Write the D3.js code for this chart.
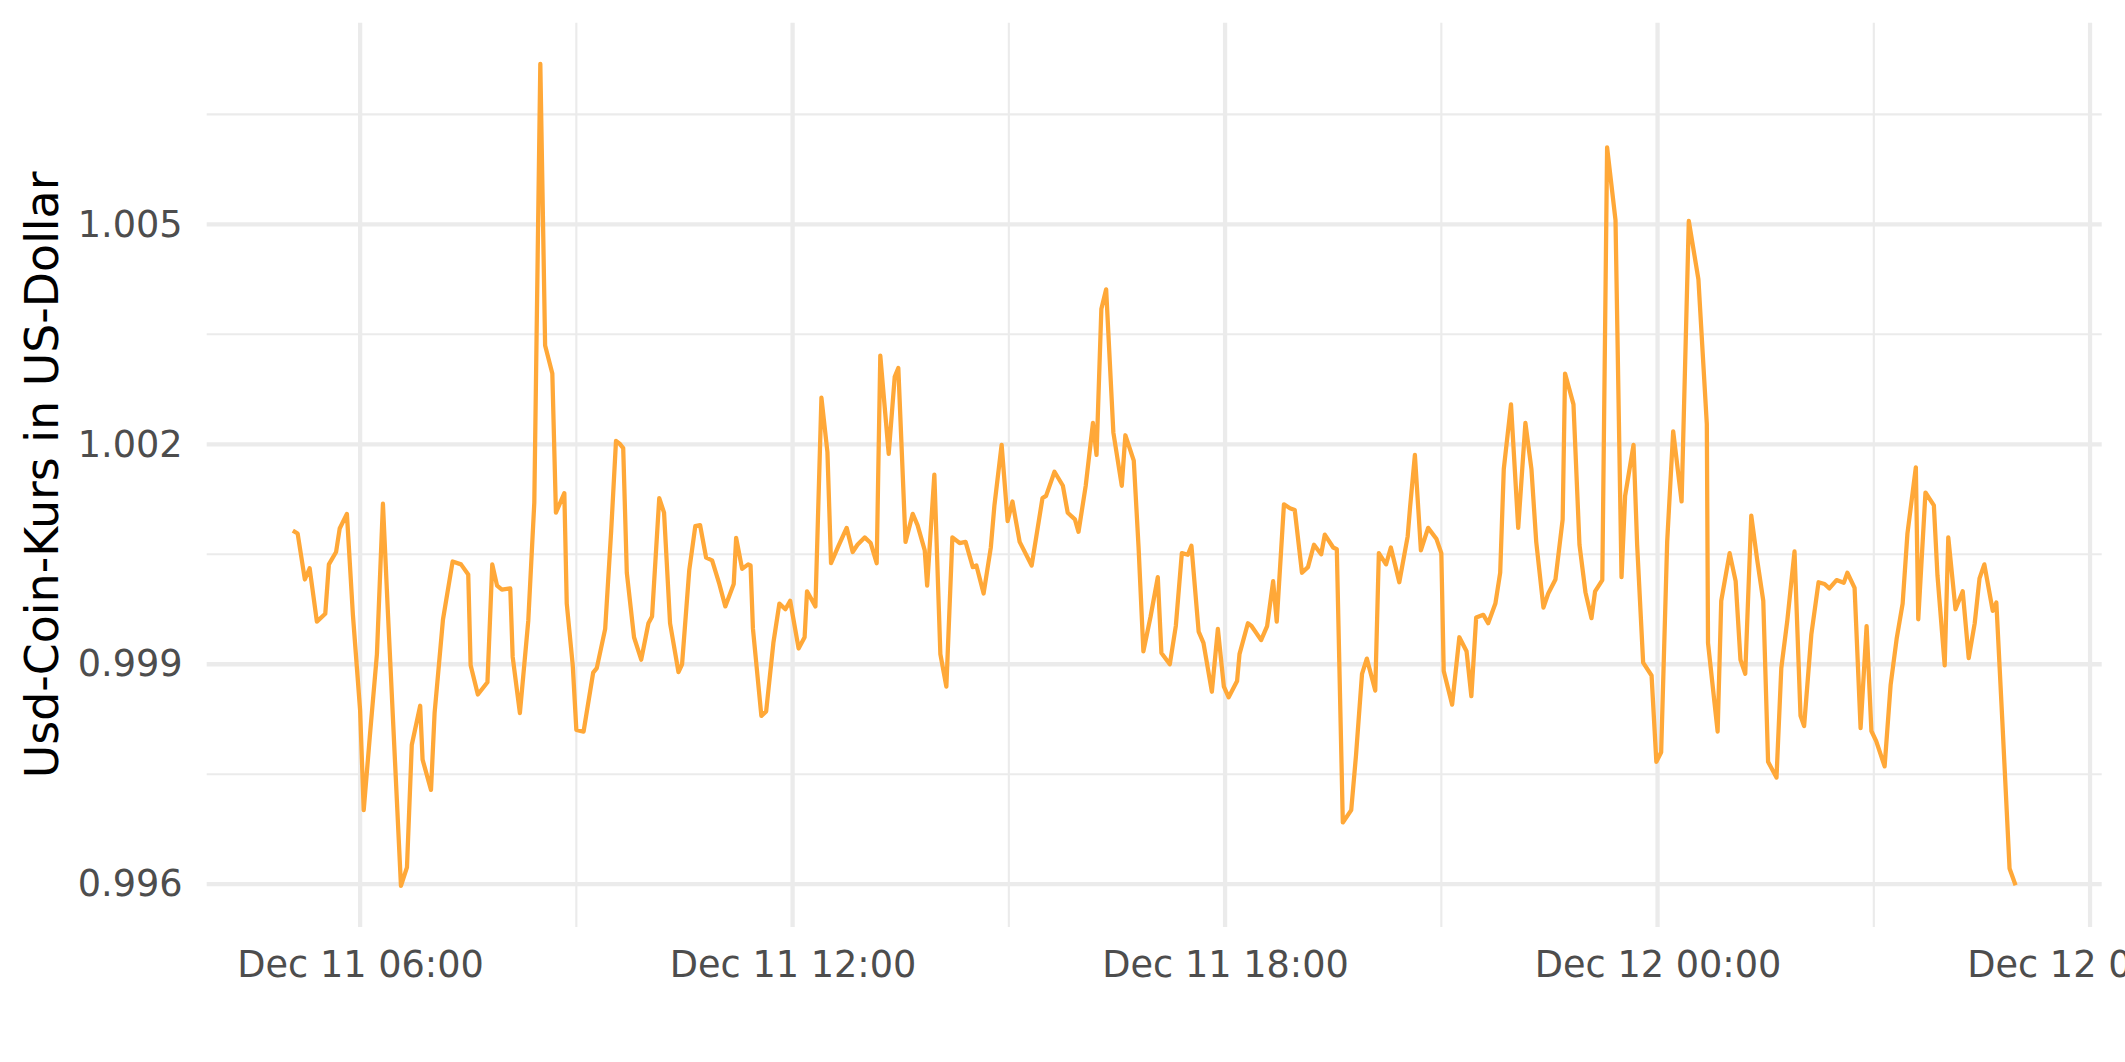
<!DOCTYPE html>
<html>
<head>
<meta charset="utf-8">
<script src="https://cdn.jsdelivr.net/npm/d3@7"></script>
<style>
  html, body { margin: 0; padding: 0; background: #ffffff; }
  svg { display: block; }
</style>
</head>
<body>
<svg id="chart" width="2125" height="1062"></svg>
<script>
// ---- Data ----
// Minutes after 2021-12-11 00:00 (UTC)
const minuteOffsets = [
  304,308,314,318,324,331,334,340,343,349,354,360,363,368,374,379,383,394,399,403,
  410,412,419,422,429,437,444,450,452,458,466,470,474,478,485,487,493,500,505,510,
  514,520,523,530,532,537,540,546,554,557,564,569,573,576,579,582,588,594,600,603,
  609,613,618,625,628,634,639,643,648,653,659,664,671,673,678,683,685,687,694,698,
  704,709,714,718,725,730,732,739,744,749,752,758,765,770,774,780,785,790,793,800,
  805,808,814,820,824,830,832,838,843,848,853,859,864,870,873,879,885,888,894,899,
  903,909,919,928,931,938,945,949,955,958,964,970,973,977,981,987,994,997,1004,1008,
  1012,1018,1024,1027,1034,1039,1044,1049,1052,1058,1062,1069,1074,1079,1083,1090,1092,1099,1102,1110,
  1115,1120,1123,1129,1134,1138,1144,1149,1154,1160,1163,1170,1173,1178,1185,1189,1194,1198,1205,1208,
  1214,1218,1225,1232,1234,1238,1243,1249,1256,1260,1262,1269,1275,1281,1285,1289,1295,1299,1305,1309,
  1312,1318,1324,1330,1335,1339,1345,1349,1355,1361,1363,1370,1375,1380,1385,1388,1394,1398,1405,1410,
  1413,1420,1423,1428,1435,1439,1443,1448,1453,1460,1466,1474,1481,1482,1490,1493,1500,1505,1509,1513,
  1518,1523,1528,1532,1539,1543,1548,1554,1559,1562,1568,1574,1579,1583,1589,1595,1598,1604,1609,1614,
  1618,1622,1629,1634,1639,1644,1648,1655,1657,1663,1670,1673,1679,1682,1688,1694,1699,1704,1708,1712,
  1719,1722,1727,1733,1738
];
// USD Coin price in US dollars
const priceUsd = [
  1.000822,1.000783,1.000156,1.000309,0.999582,0.999689,1.000362,1.000531,1.000852,1.001051,
  0.999674,0.998373,0.997010,0.998000,0.999138,1.001189,0.999750,0.995977,0.996230,0.997898,
  0.998434,0.997699,0.997286,0.998334,0.999613,1.000401,1.000362,1.000225,0.998985,0.998587,
  0.998755,1.000362,1.000072,1.000018,1.000034,0.999100,0.998334,0.999597,1.001204,1.007189,
  1.003347,1.002965,1.001067,1.001334,0.999827,0.998985,0.998105,0.998082,0.998885,0.998947,
  0.999482,1.000822,1.002046,1.002008,1.001947,1.000248,0.999368,0.999062,0.999559,0.999651,
  1.001266,1.001067,0.999559,0.998893,0.999000,1.000286,1.000883,1.000898,1.000454,1.000416,
  1.000095,0.999789,1.000095,1.000722,1.000301,1.000362,1.000347,0.999482,0.998296,0.998357,
  0.999291,0.999827,0.999750,0.999865,0.999215,0.999368,0.999995,0.999789,1.002636,1.001893,
  1.000378,1.000607,1.000860,1.000531,1.000630,1.000730,1.000653,1.000378,1.003209,1.001870,
  1.002919,1.003041,1.000669,1.001051,1.000898,1.000554,1.000072,1.001587,0.999138,0.998694,
  1.000730,1.000653,1.000669,1.000324,1.000347,0.999965,1.000592,1.001166,1.001993,1.000952,
  1.001220,1.000669,1.000347,1.001266,1.001296,1.001625,1.001434,1.001067,1.000975,1.000806,
  1.001434,1.002291,1.001855,1.003845,1.004113,1.002161,1.001434,1.002123,1.001778,1.000592,
  0.999176,0.999651,1.000187,0.999153,0.999000,0.999521,1.000516,1.000493,1.000615,0.999444,
  0.999291,0.998625,0.999482,0.998694,0.998549,0.998771,0.999138,0.999559,0.999521,0.999329,
  0.999521,1.000133,0.999582,1.001181,1.001128,1.001105,1.000248,1.000324,1.000630,1.000500,
  1.000768,1.000592,1.000569,0.996842,0.997010,0.997760,0.998870,0.999077,0.998641,1.000516,
  1.000362,1.000592,1.000118,1.000745,1.001143,1.001855,1.000554,1.000860,1.000707,1.000516,
  0.998908,0.998449,0.999368,0.999176,0.998564,0.999636,0.999674,0.999559,0.999827,1.000248,
  1.001664,1.002544,1.000860,1.002291,1.001664,1.000669,0.999773,0.999965,1.000156,1.000975,
  1.002965,1.002544,1.000630,0.999980,0.999628,0.999995,1.000148,1.006049,1.005054,1.000187,
  1.001296,1.001993,1.000630,0.999023,0.998847,0.997669,0.997799,1.000669,1.002176,1.001220,
  1.005046,1.004250,1.002276,0.999291,0.998082,0.999865,1.000516,1.000133,0.999062,0.998870,
  1.001028,1.000416,0.999865,0.997669,0.997454,0.998947,0.999597,1.000538,0.998296,0.998158,
  0.999406,1.000118,1.000095,1.000034,1.000148,1.000110,1.000248,1.000041,0.998128,0.999521,
  0.998090,0.997952,0.997607,0.998717,0.999345,0.999827,1.000783,1.001686,0.999613,1.001342,
  1.001166,1.000210,0.998985,1.000730,0.999750,0.999995,0.999084,0.999559,1.000171,1.000362,
  0.999727,0.999842,0.998220,0.996215,0.995985
];
// Axis ticks
const yMajorTicks = [0.996, 0.999, 1.002, 1.005];
const yMinorTicks = [0.9975, 1.0005, 1.0035, 1.0065];
const xMajorTickMinutes = [360, 720, 1080, 1440, 1800];   // 06:00 steps
const xMinorTickMinutes = [540, 900, 1260, 1620];
const yAxisTitle = "Usd-Coin-Kurs in US-Dollar";

// ---- Setup ----
const base = Date.UTC(2021, 11, 11, 0, 0);
const toDate = m => new Date(base + m * 60000);
const data = minuteOffsets.map((m, i) => ({ t: toDate(m), v: priceUsd[i] }));

const W = 2125, H = 1062;
const panel = { left: 206.7, right: 2101.7, top: 22.7, bottom: 927 };

const svg = d3.select("#chart");

// ggplot-like 5% expansion
const tExt = d3.extent(data, d => +d.t);
const vExt = d3.extent(data, d => d.v);
const tPad = (tExt[1] - tExt[0]) * 0.05;
const vPad = (vExt[1] - vExt[0]) * 0.05;

const x = d3.scaleUtc()
  .domain([new Date(tExt[0] - tPad), new Date(tExt[1] + tPad)])
  .range([panel.left, panel.right]);
const y = d3.scaleLinear()
  .domain([vExt[0] - vPad, vExt[1] + vPad])
  .range([panel.bottom, panel.top]);

const gridColor = "#ebebeb";
const majorW = 4.27, minorW = 2.13;

// Minor gridlines
const grid = svg.append("g");
grid.selectAll(".yminor").data(yMinorTicks).join("line")
  .attr("x1", panel.left).attr("x2", panel.right)
  .attr("y1", d => y(d)).attr("y2", d => y(d))
  .attr("stroke", gridColor).attr("stroke-width", minorW);
grid.selectAll(".xminor").data(xMinorTickMinutes.map(toDate)).join("line")
  .attr("y1", panel.top).attr("y2", panel.bottom)
  .attr("x1", d => x(d)).attr("x2", d => x(d))
  .attr("stroke", gridColor).attr("stroke-width", minorW);
// Major gridlines
grid.selectAll(".ymajor").data(yMajorTicks).join("line")
  .attr("x1", panel.left).attr("x2", panel.right)
  .attr("y1", d => y(d)).attr("y2", d => y(d))
  .attr("stroke", gridColor).attr("stroke-width", majorW);
grid.selectAll(".xmajor").data(xMajorTickMinutes.map(toDate)).join("line")
  .attr("y1", panel.top).attr("y2", panel.bottom)
  .attr("x1", d => x(d)).attr("x2", d => x(d))
  .attr("stroke", gridColor).attr("stroke-width", majorW);

// Line
const line = d3.line().x(d => x(d.t)).y(d => y(d.v));
svg.append("path")
  .datum(data)
  .attr("d", line)
  .attr("fill", "none")
  .attr("stroke", "#ffa838")
  .attr("stroke-width", 4.27)
  .attr("stroke-linejoin", "round")
  .attr("stroke-linecap", "butt");

// Axes
const fontFam = "'DejaVu Sans', Verdana, sans-serif";
const tickFont = 36.67;

const yAxis = d3.axisLeft(y).tickValues(yMajorTicks).tickFormat(d3.format(".3f"))
  .tickSize(0).tickPadding(24);
const gy = svg.append("g").attr("transform", `translate(${panel.left},0)`).call(yAxis);
gy.select(".domain").remove();
gy.selectAll("text").attr("fill", "#4d4d4d").style("font-family", fontFam).style("font-size", tickFont + "px");

const xAxis = d3.axisBottom(x).tickValues(xMajorTickMinutes.map(toDate))
  .tickFormat(d3.utcFormat("%b %d %H:%M")).tickSize(0).tickPadding(24);
const gx = svg.append("g").attr("transform", `translate(0,${panel.bottom})`).call(xAxis);
gx.select(".domain").remove();
gx.selectAll("text").attr("fill", "#4d4d4d").style("font-family", fontFam).style("font-size", tickFont + "px");

// Y title
svg.append("text")
  .attr("transform", `translate(58,${(panel.top + panel.bottom) / 2}) rotate(-90)`)
  .attr("text-anchor", "middle")
  .style("font-family", fontFam)
  .style("font-size", "45.83px")
  .attr("fill", "#000000")
  .text(yAxisTitle);
</script>
</body>
</html>
